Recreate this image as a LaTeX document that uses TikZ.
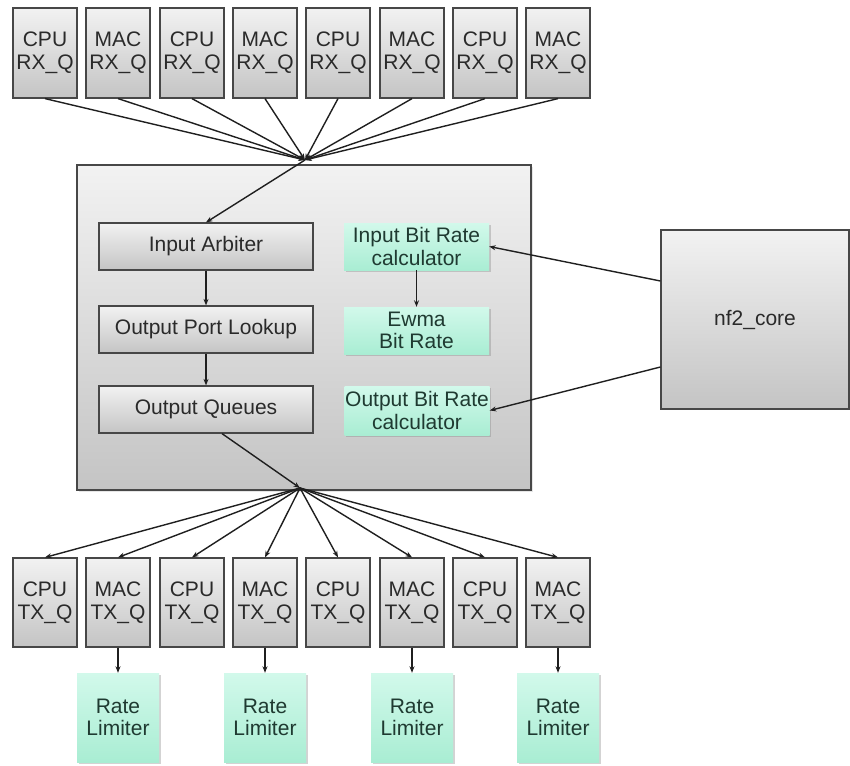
\documentclass[tikz,border=0pt]{standalone}
\usepackage{fontspec}
\setmainfont{Liberation Sans}
\usetikzlibrary{arrows.meta,shadows}
\definecolor{edgegray}{HTML}{474747}
\definecolor{txtgray}{HTML}{2A2A2A}
\definecolor{greytop}{HTML}{F2F2F2}
\definecolor{greybot}{HTML}{C4C4C4}
\definecolor{mintop}{HTML}{D2F9EB}
\definecolor{minbot}{HTML}{A9EDD3}
\definecolor{mintxt}{HTML}{1F3A31}
\tikzset{
  lbl/.style={font=\fontsize{21}{22.5}\selectfont, align=center, text=txtgray, inner sep=0pt},
  greybox/.style={lbl, draw=edgegray, line width=1.2pt, shading=axis, top color=greytop, bottom color=greybot},
  qbox/.style={greybox, minimum width=64pt, minimum height=90pt},
  stagebox/.style={greybox, minimum width=214pt, minimum height=47pt},
  mintbox/.style={lbl, text=mintxt, shading=axis, top color=mintop, bottom color=minbot,
    drop shadow={opacity=0.35, shadow xshift=1.5pt, shadow yshift=-1.8pt}},
  calcbox/.style={mintbox, minimum width=145pt, minimum height=47pt},
  limbox/.style={mintbox, minimum width=82pt, minimum height=89pt},
  conn/.style={line width=1.4pt, draw=black!88, -{Stealth[length=6.5pt,width=5pt]}},
}
\begin{document}
\begin{tikzpicture}[x=1pt,y=-1pt]
\useasboundingbox (0,0) rectangle (850,765);
% main container
\node[draw=edgegray, line width=1.2pt, shading=axis, top color=greytop, bottom color=greybot,
  minimum width=454pt, minimum height=325pt, inner sep=0pt,
  drop shadow={opacity=0.2, shadow xshift=1.5pt, shadow yshift=-1.5pt}] (main) at (304,327.5) {};
% RX queues
\node[qbox] (rx1) at (45,53) {CPU\\RX\_Q};
\node[qbox] (rx2) at (118,53) {MAC\\RX\_Q};
\node[qbox] (rx3) at (192,53) {CPU\\RX\_Q};
\node[qbox] (rx4) at (265,53) {MAC\\RX\_Q};
\node[qbox] (rx5) at (338,53) {CPU\\RX\_Q};
\node[qbox] (rx6) at (412,53) {MAC\\RX\_Q};
\node[qbox] (rx7) at (485,53) {CPU\\RX\_Q};
\node[qbox] (rx8) at (558,53) {MAC\\RX\_Q};
% TX queues
\node[qbox, minimum height=89pt] (tx1) at (45,602.5) {CPU\\TX\_Q};
\node[qbox, minimum height=89pt] (tx2) at (118,602.5) {MAC\\TX\_Q};
\node[qbox, minimum height=89pt] (tx3) at (192,602.5) {CPU\\TX\_Q};
\node[qbox, minimum height=89pt] (tx4) at (265,602.5) {MAC\\TX\_Q};
\node[qbox, minimum height=89pt] (tx5) at (338,602.5) {CPU\\TX\_Q};
\node[qbox, minimum height=89pt] (tx6) at (412,602.5) {MAC\\TX\_Q};
\node[qbox, minimum height=89pt] (tx7) at (485,602.5) {CPU\\TX\_Q};
\node[qbox, minimum height=89pt] (tx8) at (558,602.5) {MAC\\TX\_Q};
% rate limiters
\node[limbox] (rl2) at (118,717.5) {Rate\\Limiter};
\node[limbox] (rl4) at (265,717.5) {Rate\\Limiter};
\node[limbox] (rl6) at (412,717.5) {Rate\\Limiter};
\node[limbox] (rl8) at (558,717.5) {Rate\\Limiter};
% pipeline stages
\node[stagebox] (ia) at (206,246.5) {Input Arbiter};
\node[stagebox] (opl) at (206,329.5) {Output Port Lookup};
\node[stagebox] (oq) at (206,409.5) {Output Queues};
% calculators
\node[calcbox] (ibr) at (416.5,246.5) {Input Bit Rate\\calculator};
\node[calcbox] (ewma) at (416.5,330.5) {Ewma\\Bit Rate};
\node[calcbox, minimum height=49pt] (obr) at (417,410.5) {Output Bit Rate\\calculator};
% nf2 core
\node[greybox, minimum width=188pt, minimum height=179pt] (nf) at (755,319.5) {nf2\_core};
% fan points
\coordinate (fanTop) at (305,160);
\coordinate (fanBot) at (300,488);
% connectors
\foreach \i in {1,...,8} {\draw[conn] (rx\i.south) -- (fanTop);}
\draw[conn] (fanTop) -- (ia.north);
\draw[conn] (ia.south) -- (opl.north);
\draw[conn] (opl.south) -- (oq.north);
\draw[conn] ([xshift=16pt]oq.south) -- (fanBot);
\foreach \i in {1,...,8} {\draw[conn] (fanBot) -- (tx\i.north);}
\foreach \i in {2,4,6,8} {\draw[conn] (tx\i.south) -- (rl\i.north);}
\draw[conn] (ibr.south) -- (ewma.north);
\draw[conn] ([yshift=38.5pt]nf.west) -- (ibr.east);
\draw[conn] ([yshift=-47.5pt]nf.west) -- (obr.east);
\end{tikzpicture}
\end{document}
